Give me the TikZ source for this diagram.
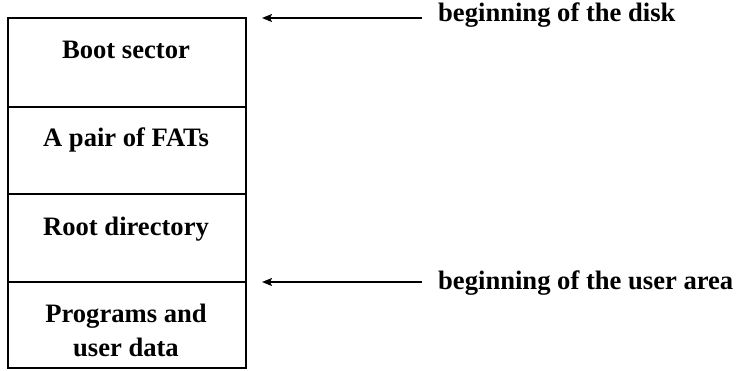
\documentclass[tikz,border=0pt]{standalone}
\usepackage{fontspec}
\setmainfont{Liberation Serif}
\usetikzlibrary{arrows.meta}
\begin{document}
\begin{tikzpicture}[x=1pt,y=-1pt,
  sect/.style={draw, line width=1.6pt, minimum width=238pt, inner sep=0pt, outer sep=0pt, anchor=north west},
  lab/.style={font=\fontsize{26.6}{34}\selectfont\bfseries, align=center, inner sep=0pt},
  note/.style={font=\fontsize{26.6}{30}\selectfont\bfseries, anchor=west, inner sep=0pt},
  arr/.style={-{Stealth[length=10pt,width=8pt,inset=2pt]}, line width=1.8pt}]
\useasboundingbox (0,0) rectangle (741,370);
\node[sect, minimum height=89pt] (boot) at (8,18) {};
\node[sect, minimum height=87pt] (fat) at (boot.south west) {};
\node[sect, minimum height=88pt] (root) at (fat.south west) {};
\node[sect, minimum height=86pt] (prog) at (root.south west) {};
\node[lab] (bootl) at (126,50) {Boot sector};
\node[lab] (fatl) at (126,140) {A pair of FATs};
\node[lab] (rootl) at (126,229) {Root directory};
\node[lab] (progl) at (126,330) {Programs and\\user data};
\node[note] (disk) at (438,15) {beginning of the disk};
\node[note] (user) at (438,283) {beginning of the user area};
\coordinate (a1s) at (422,18);
\coordinate (a1e) at (262,18);
\coordinate (a2s) at (422,282);
\coordinate (a2e) at (262,282);
\draw[arr] (a1s) -- (a1e);
\draw[arr] (a2s) -- (a2e);
\end{tikzpicture}
\end{document}
